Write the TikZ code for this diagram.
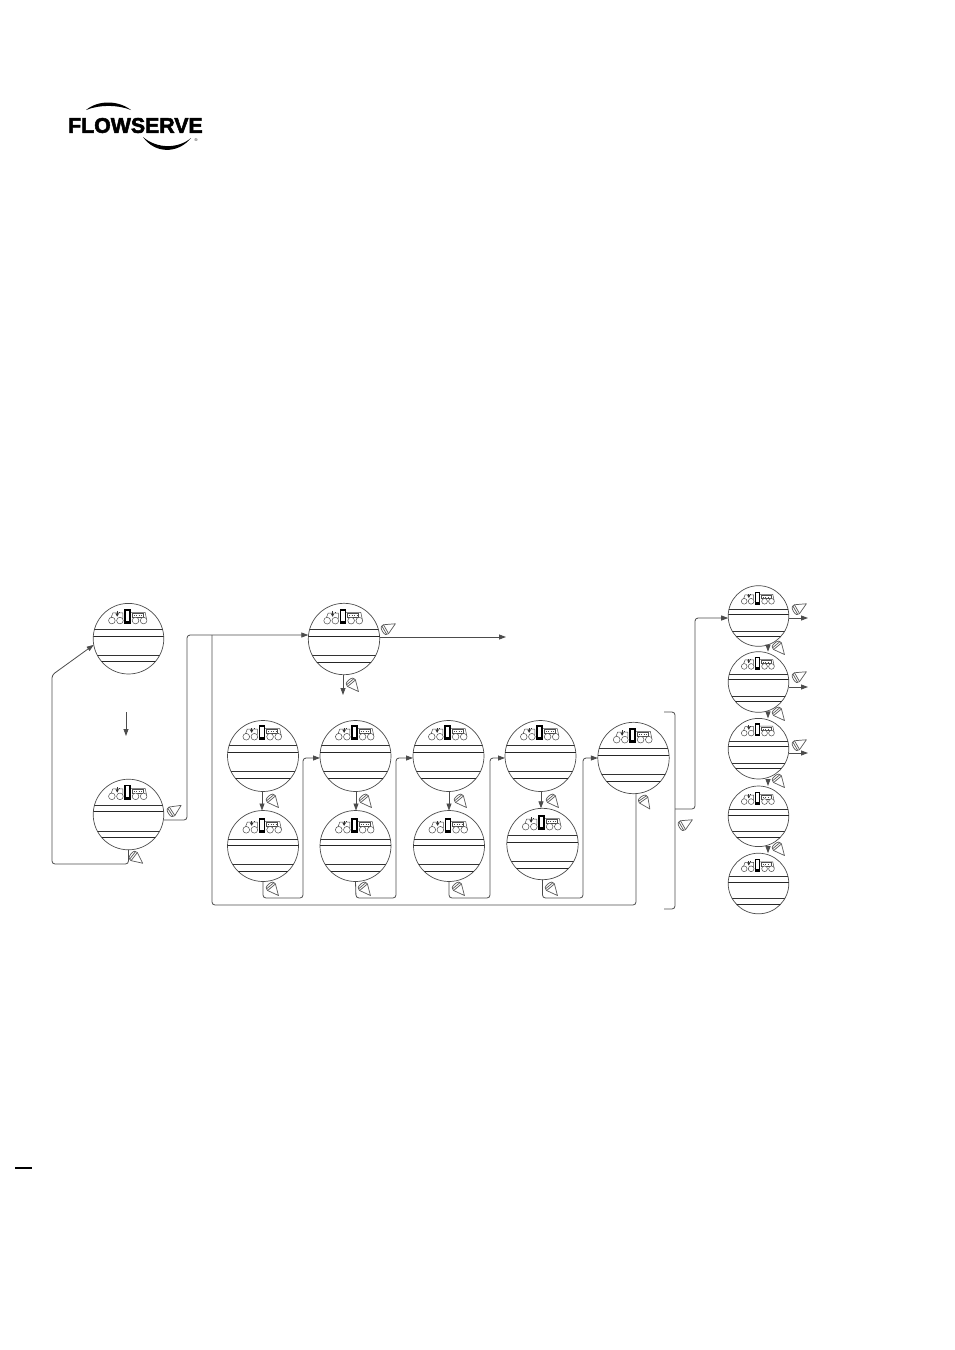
\documentclass[tikz,border=0pt]{standalone}
\usepackage{fontspec}
\setmainfont{Liberation Sans}
\newfontfamily\logofont[FakeBold=2.4]{Liberation Sans Bold}
\usetikzlibrary{arrows.meta}
\tikzset{
  disc/.style={circle,draw=black!70,line width=0.7pt,inner sep=0pt,outer sep=0pt,fill=white},
  chord/.style={draw=black!85,line width=1pt},
  chordlight/.style={draw=black!80,line width=0.8pt},
  panel/.style={draw=black!70,line width=0.5pt},
  conn/.style={draw=black!70,line width=0.8pt,rounded corners=3pt},
  arr/.style={conn,-{Triangle[length=7pt,width=5pt]}},
  conestyle/.style={draw=black!65,line width=0.7pt,fill=white,line join=round},
}
% name, x, y, radius, vertical offset of the inner parts
\newcommand\disc[5]{%
  \node[disc,minimum size=#4*2pt] (#1) at (#2,#3) {};
  \begin{scope}[shift={(#1.center)},scale=#4/35]
    \begin{scope}
      \clip (0,0) circle (35);
      \begin{scope}[yshift={-(#5)*1pt}]
      \path[chordlight] (-37,-9) -- (37,-9);
      \path[chord] (-37,-2.5) -- (37,-2.5);
      \path[chordlight] (-37,16.5) -- (37,16.5);
      \path[chord] (-37,23) -- (37,23);
      \end{scope}
    \end{scope}
    \begin{scope}[yshift={-(#5)*1pt}]
    \draw[panel] (-18,-19) -- (-15.5,-25.5) -- (-5.5,-25.5) -- (-5.5,-20) (1.5,-26) -- (16.5,-26) -- (18,-19);
    \draw[panel,line width=0.8pt,fill=white] (3.5,-25) rectangle (14.5,-21);
    \draw[panel,dotted] (5,-23) -- (13.5,-23);
    \draw[panel,fill=white] (-16.5,-18) circle (3.3) (-8.5,-18) circle (3.3) (7,-18) circle (3.3) (15,-18) circle (3.3);
    \fill[black!80] (-11.7,-27) rectangle (-10.7,-22.5);
    \fill[black!80] (-13,-25) -- (-9.4,-25) -- (-11.2,-21.8) -- cycle;
    \fill[black!80] (-9.3,-26.5) rectangle (-8.2,-25.4);
    \draw[black,line width=1.3pt,fill=white] (-3.5,-28.5) rectangle (1.5,-15);
    \fill[black] (-3.5,-17.5) rectangle (1.5,-15);
    \end{scope}
  \end{scope}
}
\newcommand\cone[3]{%
  \begin{scope}[shift={(#1,#2)},rotate=#3]
    \draw[conestyle] (8.5,0) -- (-2.5,-5.2) .. controls (-5,-5.8) and (-6.5,-4) .. (-6.5,0) .. controls (-6.5,4) and (-5,5.8) .. (-2.5,5.2) -- cycle;
    \draw[conestyle,fill=none] (-4.3,-5) -- (-4.3,5);
    \draw[conestyle,fill=none] (-2.3,-5) -- (-2.3,5);
  \end{scope}
}
\begin{document}
\begin{tikzpicture}[x=1pt,y=-1pt]
\useasboundingbox (0,0) rectangle (954,1350);
% logo
\node[inner sep=0pt,anchor=west,font=\logofont\fontsize{21.3}{22}\selectfont] (logo) at (68,125.5) {FLOWSERVE};
\fill[black] (86,110) .. controls (98,100) and (118,100) .. (131,110) .. controls (117,104.5) and (100,104.5) .. (86,110) -- cycle;
\fill[black] (143,137) .. controls (155,154) and (178,154) .. (191,138) .. controls (178,149) and (157,149) .. (143,137) -- cycle;
\node[inner sep=0pt,font=\fontsize{4}{4}\selectfont] (reg) at (196,140) {®};
% short rule
\draw[black,line width=1.5pt] (15,1168) -- (32,1168);
% discs
\disc{a}{128.5}{638.7}{35.3}{0}
\disc{b}{128.5}{814.5}{35.3}{0}
\disc{t}{344}{639}{35.7}{0}
\disc{g1}{263}{756}{35.5}{-1}
\disc{h1}{263}{846}{35.5}{2}
\disc{g2}{355.5}{756}{35.5}{-1}
\disc{h2}{355.5}{846}{35.5}{2}
\disc{g3}{448.5}{756}{35.5}{-1}
\disc{h3}{449}{846}{35.5}{2}
\disc{g4}{540.5}{756}{35.5}{-1}
\disc{h4}{542.5}{844}{35.7}{1}
\disc{g5}{633.5}{758}{35.7}{0}
\disc{r1}{758.5}{616}{30.3}{1}
\disc{r2}{758.5}{682}{30.3}{0}
\disc{r3}{758.5}{748.7}{30.3}{0}
\disc{r4}{758.5}{816.3}{30.3}{1}
\disc{r5}{758.5}{883.5}{30.3}{1}
% named free ends
\coordinate (endT) at (506,637);
\coordinate (endD) at (343,695);
\coordinate (br1) at (664,712);
\coordinate (br2) at (664,909);
\coordinate (e1) at (808,618);
\coordinate (e2) at (808,687);
\coordinate (e3) at (808,753);
\coordinate (s1) at (126,712);
\coordinate (s2) at (126,736);
\coordinate (brm) at (675,809);
% connectors
\draw[arr] (b.south) -- (128.5,864) -- (52,864) -- (52,675) -- (a.190);
\draw[arr] (s1) -- (s2);
\draw[arr] (b.east |- 0,820) -- (187,820) -- (187,635) -- (t.west |- 0,635);
\draw[conn] (g5.south -| 636,0) -- (636,905) -- (212,905) -- (212,635);
\draw[arr] (t.east |- 0,637) -- (endT);
\draw[arr] (t.south -| endD) -- (endD);
\foreach \u/\v/\x in {g1/h1/262,g2/h2/356,g3/h3/449,g4/h4/541}
  \draw[arr] (\u.south -| \x,0) -- (\v.north -| \x,0);
\draw[arr] (h1.south) -- (263,898) -- (303,898) -- (303,758) -- (g2.west |- 0,758);
\draw[arr] (h2.south) -- (356,898) -- (396,898) -- (396,758) -- (g3.west |- 0,758);
\draw[arr] (h3.south) -- (449,898) -- (490,898) -- (490,758) -- (g4.west |- 0,758);
\draw[arr] (h4.south) -- (542.5,898) -- (583,898) -- (583,758) -- (g5.west);
\draw[conn] (br1) -- (675,712) -- (675,909) -- (br2);
\draw[arr] (brm) -- (695,809) -- (695,618) -- (r1.west |- 0,618);
\draw[arr] (r1.east |- e1) -- (e1);
\draw[arr] (r2.east |- e2) -- (e2);
\draw[arr] (r3.east |- e3) -- (e3);
\foreach \u/\v in {r1/r2,r2/r3,r3/r4,r4/r5}
  \draw[arr] (\u.south -| 768,0) -- (\v.north -| 768,0);
% pointers
\cone{174}{810}{33}
\cone{136}{858}{-38}
\cone{388}{628}{30}
\cone{353}{685}{-50}
\foreach \x in {273,366,461,553}{\cone{\x}{801}{-50}}
\foreach \x in {273,365,459,552}{\cone{\x}{889}{-50}}
\cone{645}{802}{-55}
\cone{685}{824}{30}
\foreach \y in {608,676,744}{\cone{799}{\y}{30}}
\foreach \y in {648,714,781,849}{\cone{779}{\y}{-50}}
\end{tikzpicture}
\end{document}
